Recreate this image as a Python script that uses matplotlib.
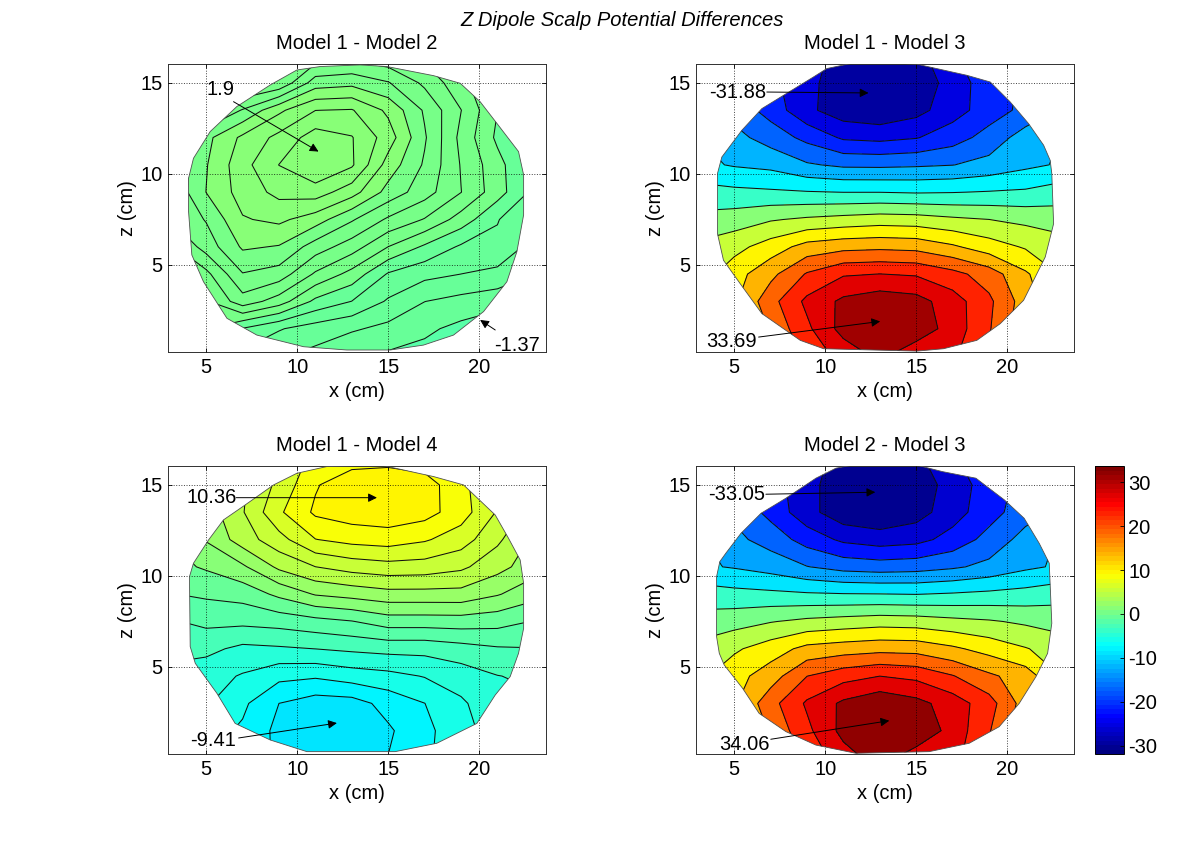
import numpy as np
import matplotlib
matplotlib.use('Agg')
import matplotlib.pyplot as plt
from matplotlib.cm import ScalarMappable
from matplotlib.colors import Normalize, LinearSegmentedColormap
from matplotlib.patches import Polygon

plt.rcParams['font.family'] = ['Liberation Sans', 'DejaVu Sans']
plt.rcParams['font.size'] = 14.5
plt.rcParams['axes.unicode_minus'] = False

# sample grid (cm)
x_cm = [3, 5, 7, 9, 11, 13, 15, 17, 19, 21, 23]
z_cm = [0.2, 1.5, 3, 4.5, 6, 7.5, 9, 10.5, 12, 13.5, 15, 16.2]

# potential differences, one row per z_cm value
m12 = [
    [-0.6, -0.6, -0.7, -0.85, -0.95, -1.1, -1.15, -1.2, -1.3, -1.37, -1.37],
    [-0.3, -0.2, -0.45, -0.65, -0.78, -0.87, -0.97, -1.09, -1.2, -1.3, -1.37],
    [-0.1, 0.0, 0.4, 0.15, -0.26, -0.44, -0.7, -0.9, -0.98, -1.05, -1.1],
    [0.0, 0.2, 0.72, 0.63, 0.23, -0.05, -0.46, -0.6, -0.67, -0.73, -0.9],
    [0.2, 0.6, 1.0, 0.95, 0.62, 0.38, 0.03, -0.24, -0.47, -0.5, -0.75],
    [0.5, 0.75, 1.18, 1.25, 1.08, 0.76, 0.46, 0.25, -0.07, -0.42, -0.7],
    [0.5, 0.97, 1.3, 1.5, 1.55, 1.3, 0.88, 0.6, 0.27, -0.1, -0.5],
    [0.5, 0.95, 1.35, 1.67, 1.9, 1.7, 1.1, 0.7, 0.25, -0.12, -0.5],
    [0.4, 0.9, 1.25, 1.5, 1.78, 1.68, 1.32, 0.76, 0.2, -0.25, -0.6],
    [0.2, 0.45, 0.75, 1.15, 1.43, 1.45, 1.15, 0.7, 0.27, -0.2, -0.6],
    [0.0, 0.0, 0.2, 0.3, 0.85, 0.9, 0.75, 0.45, 0.1, -0.2, -0.5],
    [-0.1, -0.1, 0.1, 0.2, 0.45, 0.5, 0.4, 0.25, 0.05, -0.2, -0.5],
]
m13 = [
    [5, 8, 15, 22, 27, 31, 27, 26, 20, 12, 5],
    [5, 6, 17, 24, 31, 33.69, 32, 27.5, 21, 13, 5],
    [8, 11, 19, 26, 30.3, 32, 31, 27, 21.5, 14, 8],
    [5, 10, 15, 21, 24.5, 25, 24.5, 22, 18.5, 12.5, 7],
    [4, 6, 9.5, 13.5, 14.8, 15.2, 14.8, 12.5, 9.5, 7, 5],
    [0, 0.9, 2.7, 3.8, 4.6, 5.3, 5, 3.9, 3.1, 2, 1],
    [-4, -4.6, -5, -5.4, -5.7, -5.7, -6, -5.8, -5.4, -5, -3.5],
    [-9, -10.4, -11.2, -13.9, -15.2, -15.3, -15, -14.5, -13, -11, -9.5],
    [-10, -13, -16.3, -20, -23.8, -24.4, -23.4, -20.8, -17, -12.4, -10],
    [-12, -16, -20.5, -26.5, -30, -31, -29, -25, -21, -17.5, -14],
    [-12, -16, -22, -26, -30.5, -31.88, -31, -25.3, -21, -18, -14],
    [-12, -16, -22, -26, -29, -30, -29.5, -24, -20, -18, -14],
]
m14 = [
    [-6, -6, -7, -8.3, -9, -9, -8, -6.9, -5.6, -4.6, -4.5],
    [-6, -6, -6.8, -8.4, -9.41, -9.3, -8.2, -7, -5.6, -4.6, -4.5],
    [-5, -5, -6.3, -8, -8.7, -8.6, -7.5, -6.6, -5.4, -4.2, -4],
    [-4.5, -4.6, -5.3, -6.2, -6.4, -5.9, -5.6, -5.1, -4.5, -3.8, -3.5],
    [-3, -3.4, -4.1, -3.95, -3.75, -3.5, -3.3, -3.3, -2.9, -2.5, -2.4],
    [-2.5, -2, -2, -1.8, -1.4, -1, -0.25, -0.25, -0.2, -0.4, -1],
    [-1, -0.7, -0.4, 0.8, 2, 2.4, 2.8, 2.8, 2.8, 2, 1],
    [0, 0.65, 1.65, 3.6, 4.7, 5.3, 5.6, 5.5, 5, 3.8, 2.5],
    [0.5, 2, 4, 5.6, 7.5, 8, 8.2, 7.7, 6.8, 5, 3],
    [1, 2.5, 4.6, 7.3, 9.2, 9.7, 9.9, 9.5, 8.2, 6, 4],
    [1, 2.5, 4.5, 6.5, 8.8, 10, 10.36, 9.6, 8, 6, 4],
    [1, 2.5, 4.5, 6.5, 8, 8.5, 8.6, 8.4, 7.5, 6, 4],
]
m23 = [
    [5, 8, 15, 22, 28, 32, 28, 27, 20, 12, 5],
    [5, 7, 17, 24, 31, 34.06, 33, 28, 21, 13, 5],
    [8, 11, 19, 25.8, 30.5, 33, 31, 27.5, 22.5, 14, 8],
    [6, 10, 14, 20.6, 23.4, 25.1, 24, 20.9, 17, 14, 7],
    [4, 6.5, 9.5, 13, 14, 14.7, 14.5, 12.5, 10, 7.5, 5],
    [0, 1, 2.5, 3.8, 4.6, 5.3, 5, 4, 3.2, 2, 1],
    [-4, -4.8, -5.2, -5.7, -6, -6.1, -6.3, -5.8, -5.2, -4.6, -3.5],
    [-10, -11, -12.5, -15, -16.8, -17.4, -17, -15.8, -14, -11.5, -10],
    [-10, -14, -17, -21.5, -25, -26.3, -25.5, -22.5, -18, -13.5, -10],
    [-12, -16, -21, -27, -31.5, -32.5, -30.5, -26, -21.5, -17, -14],
    [-12, -16, -22, -27, -31.5, -33.05, -31.5, -26.5, -22, -18, -14],
    [-12, -16, -22, -27, -30, -31, -30, -25, -21, -18, -14],
]

# scalp outlines
out12_x = [9.98, 11.26, 13.46, 14.93, 17.49, 18.96, 20.05, 20.97, 22.16, 22.44, 22.44, 22.07, 21.52, 20.24, 18.59, 16.94, 15.11, 12.73, 10.35, 7.78, 6.14, 4.85, 4.21, 4.03, 4.03, 4.3, 5.22, 6.68, 8.52]
out12_z = [15.71, 15.9, 15.99, 15.9, 15.4, 14.98, 13.97, 12.78, 11.23, 9.95, 7.75, 5.73, 4.08, 2.44, 1.15, 0.6, 0.33, 0.33, 0.51, 1.15, 2.07, 4.08, 5.55, 7.93, 9.76, 10.86, 12.33, 13.7, 14.89]
out13_x = [11.37, 13.57, 15.04, 17.78, 19.07, 20.16, 21.17, 22.0, 22.36, 22.45, 22.55, 22.09, 21.63, 20.9, 19.62, 18.33, 16.5, 15.04, 9.91, 8.63, 7.71, 6.52, 5.33, 4.41, 4.08, 4.08, 4.32, 5.42, 6.52, 7.71, 9.36, 10.09]
out13_z = [16.06, 16.1, 16.03, 15.42, 15.05, 13.96, 12.77, 11.58, 10.75, 10.02, 7.27, 5.44, 4.52, 3.06, 1.78, 0.86, 0.4, 0.27, 0.4, 0.86, 1.5, 2.33, 3.97, 5.26, 6.72, 10.02, 10.93, 12.4, 13.59, 14.32, 15.33, 15.79]
out14_x = [11.63, 14.56, 17.49, 19.14, 20.88, 21.61, 22.25, 22.44, 22.44, 22.16, 21.7, 20.88, 19.87, 17.67, 15.38, 10.53, 8.52, 6.59, 5.59, 4.4, 4.12, 4.08, 4.3, 5.13, 5.95, 7.14, 8.7, 9.98]
out14_z = [16.01, 16.1, 15.46, 15, 13.35, 12.07, 10.88, 9.6, 7.12, 5.75, 4.47, 3.46, 1.9, 0.81, 0.35, 0.35, 0.99, 1.9, 3.55, 5.2, 6.12, 9.96, 10.7, 11.98, 13.08, 13.9, 15, 15.64]
out23_x = [12.05, 14.98, 16.45, 18.28, 19.84, 20.93, 21.76, 22.31, 22.45, 22.22, 21.58, 20.66, 19.56, 17.91, 15.71, 11.68, 9.49, 7.84, 6.37, 5.46, 4.45, 4.18, 4.03, 4.03, 4.21, 4.54, 5.37, 6.47, 7.84, 9.49, 10.59]
out23_z = [16.19, 16.1, 15.73, 15.37, 14.18, 13.17, 11.79, 10.7, 7.4, 5.75, 4.47, 3, 1.72, 0.81, 0.35, 0.26, 0.71, 1.45, 2.45, 3.83, 5.11, 5.75, 6.67, 9.96, 10.79, 11.25, 12.34, 13.44, 14.27, 15.37, 15.92]

titles = ['Model 1 - Model 2', 'Model 1 - Model 3', 'Model 1 - Model 4', 'Model 2 - Model 3']
n_levels = [13, 14, 13, 14]

# max/min labels: text, text x, text z, arrow tail x, z, arrow head x, z
notes12 = [('1.9', 5.0, 14.65, 6.5, 13.97, 11.17, 11.23),
           ('-1.37', 20.8, 0.6, 20.88, 1.43, 20.05, 1.98)]
notes13 = [('-31.88', 3.6, 14.45, 6.79, 14.5, 12.38, 14.45),
           ('33.69', 3.45, 0.8, 6.34, 1.04, 13.02, 1.9)]
notes14 = [('10.36', 3.9, 14.3, 6.65, 14.3, 14.38, 14.3),
           ('-9.41', 4.1, 0.95, 6.78, 1.1, 12.18, 1.92)]
notes23 = [('-33.05', 3.55, 14.45, 6.74, 14.49, 12.75, 14.6),
           ('34.06', 4.2, 0.75, 7.01, 1.03, 13.52, 2.05)]

# matlab's jet, the matplotlib one is a bit different
jet_ml = LinearSegmentedColormap('jet_ml', {
    'red': [(0, 0, 0), (0.375, 0, 0), (0.625, 1, 1), (0.875, 1, 1), (1, 0.5, 0.5)],
    'green': [(0, 0, 0), (0.125, 0, 0), (0.375, 1, 1), (0.625, 1, 1), (0.875, 0, 0), (1, 0, 0)],
    'blue': [(0, 0.5, 0.5), (0.125, 1, 1), (0.375, 1, 1), (0.625, 0, 0), (1, 0, 0)],
}, N=64)

fig = plt.figure(figsize=(12, 8.48), dpi=100)
W, H = 1200.0, 848.0


def make_axes(left, top, right, bottom):
    return fig.add_axes([left / W, 1 - bottom / H, (right - left) / W, (bottom - top) / H])


axes_list = [make_axes(168, 64, 546, 352), make_axes(696, 64, 1074, 352),
             make_axes(168, 466, 546, 754), make_axes(696, 466, 1074, 754)]
fields = [m12, m13, m14, m23]
outlines = [(out12_x, out12_z), (out13_x, out13_z), (out14_x, out14_z), (out23_x, out23_z)]
notes = [notes12, notes13, notes14, notes23]
norm = Normalize(-31.88, 33.69)

for i, ax in enumerate(axes_list):
    data = np.array(fields[i], dtype=float)
    levels = np.linspace(data.min(), data.max(), n_levels[i] + 2)
    cf = ax.contourf(x_cm, z_cm, data, levels=levels, cmap=jet_ml, norm=norm, zorder=1)
    cl = ax.contour(x_cm, z_cm, data, levels=levels[1:-1], colors='#101010', linewidths=0.75,
                    linestyles='solid', zorder=2)
    shape = Polygon(np.column_stack(outlines[i]), closed=True, transform=ax.transData,
                    facecolor='none', edgecolor='#505050', linewidth=0.6, zorder=3)
    ax.add_patch(shape)
    cf.set_clip_path(shape)
    cl.set_clip_path(shape)

    ax.set_xlim(2.9, 23.67)
    ax.set_ylim(0.22, 16.04)
    ax.set_xticks([5, 10, 15, 20])
    ax.set_yticks([5, 10, 15])
    ax.tick_params(direction='in', length=3, width=0.6, top=True, right=True, labelsize=14.5, pad=4)
    ax.grid(True, color='black', linestyle=':', linewidth=0.7, alpha=0.75, zorder=4)
    ax.set_axisbelow(False)
    for s in ax.spines.values():
        s.set_linewidth(0.7)
        s.set_color('#303030')
    ax.set_xlabel('x (cm)', fontsize=14.5, labelpad=4)
    ax.set_ylabel('z (cm)', fontsize=14.5, labelpad=2)
    ax.set_title(titles[i], fontsize=14.5, pad=11)

    for txt, tx, tz, x0, z0, x1, z1 in notes[i]:
        ax.text(tx, tz, txt, ha='left', va='center', fontsize=14.5, color='black', zorder=6)
        ax.annotate('', xy=(x1, z1), xytext=(x0, z0), zorder=6,
                    arrowprops=dict(arrowstyle='-|>', color='black', lw=0.7, mutation_scale=13,
                                    shrinkA=0, shrinkB=0))

cax = make_axes(1095, 466, 1124, 754)
cb = fig.colorbar(ScalarMappable(norm=norm, cmap=jet_ml), cax=cax)
cb.set_ticks([-30, -20, -10, 0, 10, 20, 30])
cb.ax.tick_params(direction='in', length=3, width=0.6, labelsize=14.5, pad=3)
cb.outline.set_linewidth(0.7)

fig.text(622 / W, 1 - 21 / H, 'Z Dipole Scalp Potential Differences', ha='center', va='center',
         fontsize=14.5, style='italic')

plt.savefig('out.png', dpi=100)
